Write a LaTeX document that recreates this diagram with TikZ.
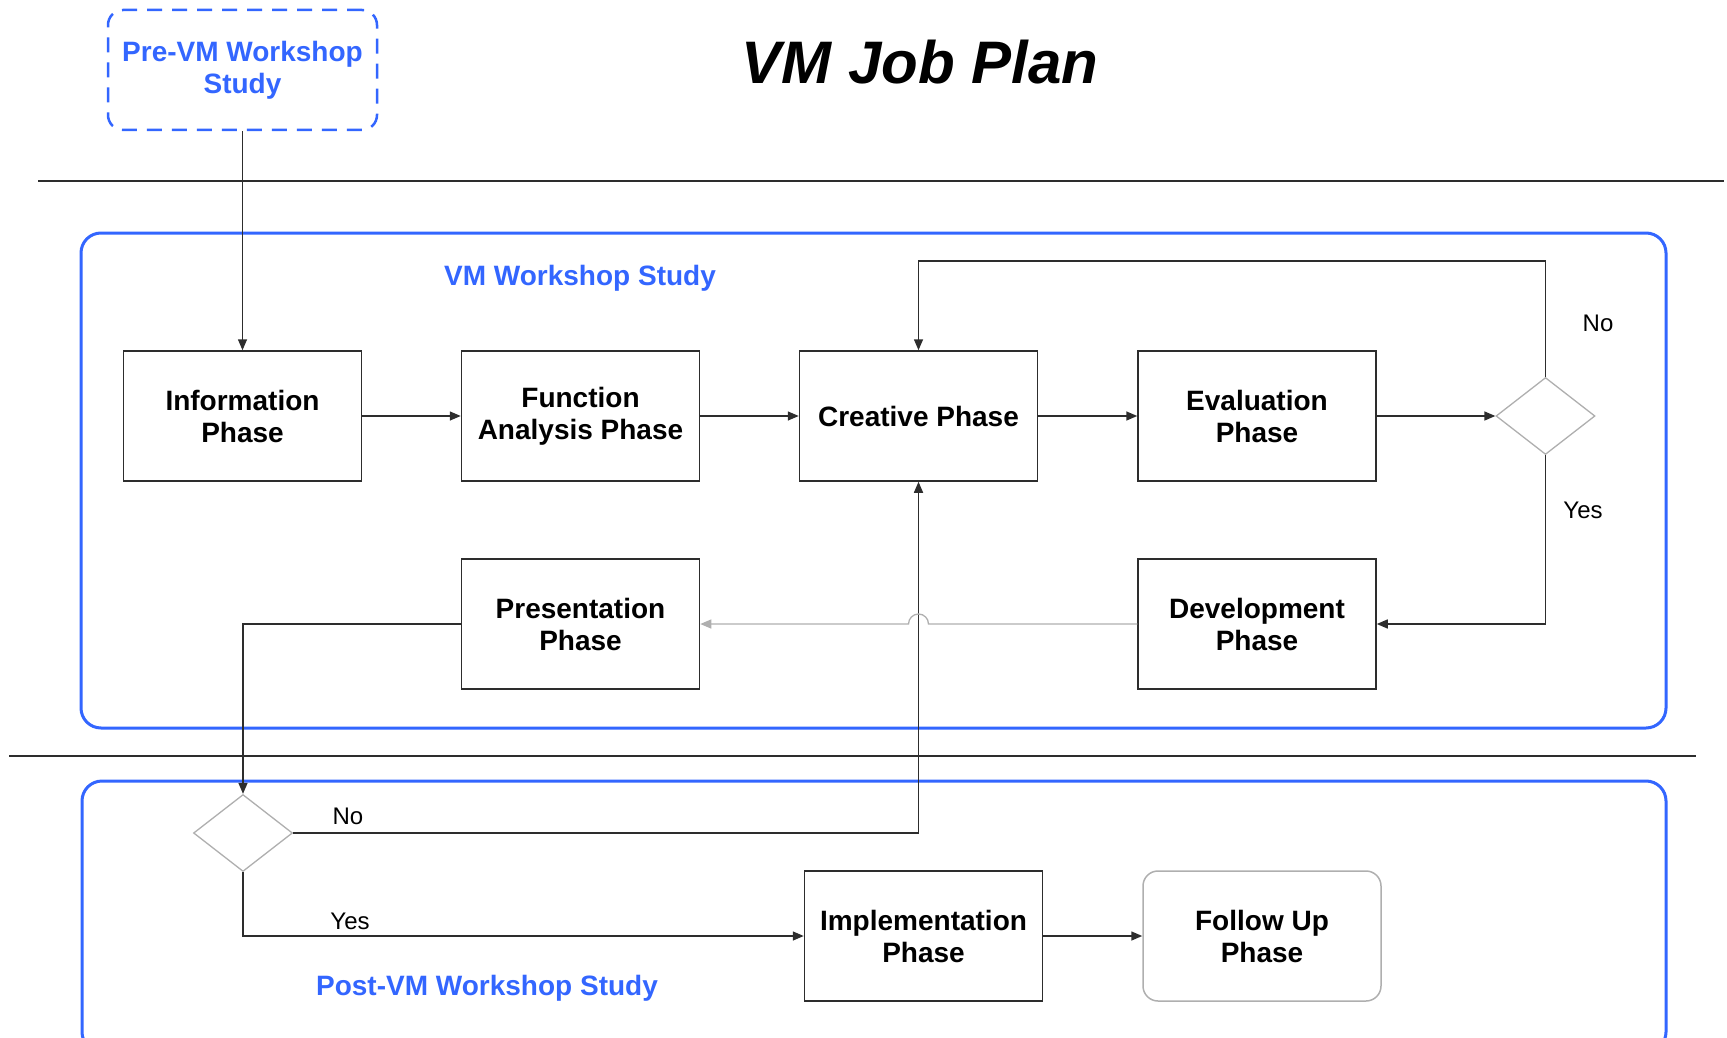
\documentclass[tikz,border=0pt]{standalone}
\usepackage{fontspec}
\setmainfont{Liberation Sans}
\usetikzlibrary{arrows.meta,shapes.geometric,calc}
\definecolor{vmblue}{RGB}{51,102,255}
\definecolor{inkgray}{RGB}{45,45,45}
\definecolor{softgray}{RGB}{175,175,175}

\begin{document}
\begin{tikzpicture}[x=1pt,y=-1pt,
  phase/.style={draw=inkgray, line width=1.5pt, fill=white,
    minimum width=238pt, minimum height=130pt, inner sep=0pt,
    align=center, font=\fontsize{28}{32}\selectfont\bfseries},
  softphase/.style={phase, draw=softgray, rounded corners=15pt},
  decision/.style={diamond, draw=softgray, line width=1.3pt, fill=white,
    minimum width=99pt, minimum height=77pt, inner sep=0pt},
  conn/.style={draw=inkgray, line width=1.5pt,
    -{Triangle[length=11pt,width=9pt]}},
  softconn/.style={conn, draw=softgray},
  stagebox/.style={draw=vmblue, line width=3pt, rounded corners=20pt},
  sepline/.style={draw=inkgray, line width=1.8pt},
  stagelabel/.style={text=vmblue, font=\fontsize{28}{32}\selectfont\bfseries, align=center},
  answer/.style={font=\fontsize{24}{28}\selectfont},
]
\path[use as bounding box] (0,0) rectangle (1727,1038);
\clip (0,0) rectangle (1727,1038);

% title
\node (title) at (920,62) {\fontsize{60}{64}\selectfont\bfseries\itshape VM Job Plan};

% stage separators and frames
\draw[sepline] (38,181) -- (1724,181);
\draw[sepline] (9,756) -- (1696,756);
\draw[stagebox] (81,233) rectangle (1666,728);
\draw[stagebox] (82,781) rectangle (1666,1052);

% stage captions
\node[stagelabel, draw=vmblue, line width=2.5pt, dash pattern=on 15pt off 10pt,
  rounded corners=15pt, minimum width=269pt, minimum height=120pt]
  (pre) at (242.5,70) {Pre-VM Workshop\\Study};
\node[stagelabel] (wslabel) at (580,278) {VM Workshop Study};
\node[stagelabel] (postlabel) at (487,988) {Post-VM Workshop Study};

% phases
\node[phase] (info) at (242.5,416) {Information\\Phase};
\node[phase] (func) at (580.5,416) {Function\\Analysis Phase};
\node[phase] (creative) at (918.5,416) {Creative Phase};
\node[phase] (eval) at (1257,416) {Evaluation\\Phase};
\node[phase] (pres) at (580.5,624) {Presentation\\Phase};
\node[phase] (dev) at (1257,624) {Development\\Phase};
\node[phase] (impl) at (923.5,936) {Implementation\\Phase};
\node[softphase] (follow) at (1262,936) {Follow Up\\Phase};

% decisions
\node[decision] (dec1) at (1545.5,416) {};
\node[decision] (dec2) at (243,833) {};
\coordinate (loop) at (1545.5,261);

% answer labels
\node[answer] (no1) at (1598,323) {No};
\node[answer] (yes1) at (1583,510) {Yes};
\node[answer] (no2) at (348,816) {No};
\node[answer] (yes2) at (350,921) {Yes};

% flow
\draw[conn] (pre.south) -- (info.north);
\draw[conn] (info.east) -- (func.west);
\draw[conn] (func.east) -- (creative.west);
\draw[conn] (creative.east) -- (eval.west);
\draw[conn] (eval.east) -- (dec1.west);
\draw[conn] (dec1.north) -- (dec1.north |- loop) -| (creative.north);
\draw[conn] (dec1.south) |- (dev.east);
\draw[conn] (pres.west) -| (dec2.north);
\draw[conn] (dec2.east) -| (creative.south);
\draw[conn] (dec2.south) |- (impl.west);
\draw[conn] (impl.east) -- (follow.west);
% development back to presentation, hopping over the vertical line
\draw[softconn, line width=1.3pt] (dev.west)
  -- ($(creative.south |- dev.west)+(10,0)$)
  arc[start angle=0, end angle=180, radius=10pt]
  -- (pres.east);
\end{tikzpicture}
\end{document}
